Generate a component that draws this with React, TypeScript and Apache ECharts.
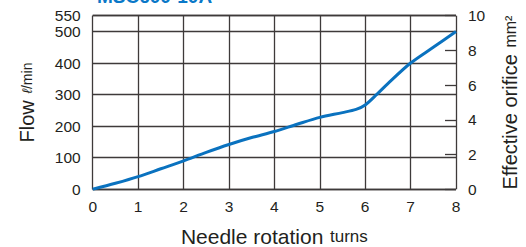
import React, { useEffect, useRef } from "react";
import * as echarts from "echarts";

const turns = [0, 0.5, 1, 1.5, 2, 2.5, 3, 3.5, 4, 4.5, 5, 5.5, 5.8, 6, 6.25, 6.5, 7, 7.5, 8];
const flow = [0, 19, 40, 65, 90, 117, 142, 164, 183, 206, 228, 243, 253, 267, 300, 335, 400, 450, 500];
const flowMax = 550;
const titleText = "MSC600-10A";

export default function App() {
  const ref = useRef<HTMLDivElement>(null);
  useEffect(() => {
    const chart = echarts.init(ref.current!, undefined, { renderer: "svg" });
    const gridColor = "#3e3a3a";
    const font = "Liberation Sans, Arial, sans-serif";
    const ink = "#231f20";
    const tickLabel = { fontSize: 15.5, lineHeight: 13, color: ink, fontFamily: font };
    chart.setOption({
      animation: false,
      textStyle: { fontFamily: font },
      grid: {
        left: 92.7,
        right: 70,
        top: 15.7,
        bottom: 57.7,
        containLabel: false,
        outerBoundsMode: "none",
      },
      graphic: [
        {
          type: "text",
          x: 97,
          y: -3.5,
          style: {
            text: titleText,
            font: "bold 19px Liberation Sans, Arial, sans-serif",
            fill: "#0a78c8",
            verticalAlign: "middle",
            align: "left",
          },
        },
      ],
      xAxis: {
        type: "value",
        min: 0,
        max: 8,
        interval: 1,
        name: "{a|Needle rotation}  {b|turns}",
        nameLocation: "middle",
        nameGap: 37,
        nameTextStyle: {
          rich: {
            a: { fontSize: 21, color: ink, fontFamily: font },
            b: { fontSize: 17, color: ink, fontFamily: font },
          },
        },
        axisLine: { show: false },
        axisTick: { show: false },
        axisLabel: { ...tickLabel, margin: 11 },
        splitLine: { show: true, lineStyle: { color: gridColor, width: 1.3 } },
      },
      yAxis: [
        {
          type: "value",
          min: 0,
          max: flowMax,
          interval: 100,
          name: "{a|Flow}  {c|ℓ}{b|/min}",
          nameLocation: "middle",
          nameRotate: 90,
          nameGap: 56,
          nameTextStyle: {
            rich: {
              a: { fontSize: 20, color: ink, fontFamily: font },
              b: { fontSize: 14, color: ink, fontFamily: font },
              c: { fontSize: 14, color: ink, fontFamily: font, fontStyle: "italic" },
            },
          },
          axisLine: { show: false },
          axisTick: { show: false },
          axisLabel: { ...tickLabel, margin: 12, showMaxLabel: false },
          splitLine: { show: true, lineStyle: { color: gridColor, width: 1.3 } },
        },
        {
          type: "value",
          position: "right",
          min: 0,
          max: 10,
          interval: 2,
          name: "{a|Effective orifice}  {b|mm²}",
          nameLocation: "middle",
          nameRotate: 90,
          nameGap: 44,
          nameTextStyle: {
            rich: {
              a: { fontSize: 20, color: ink, fontFamily: font },
              b: { fontSize: 16, color: ink, fontFamily: font },
            },
          },
          axisLine: { show: false },
          axisTick: { show: true, inside: true, length: 11, lineStyle: { color: gridColor, width: 1.3 } },
          axisLabel: { ...tickLabel, margin: 12 },
          splitLine: { show: false },
        },
        {
          type: "value",
          position: "left",
          offset: 0,
          min: 0,
          max: flowMax,
          interval: flowMax,
          axisLine: { show: false },
          axisTick: { show: false },
          splitLine: { show: true, lineStyle: { color: gridColor, width: 1.3 } },
          axisLabel: { ...tickLabel, margin: 12, showMinLabel: false, showMaxLabel: true },
        },
      ],
      series: [
        {
          type: "line",
          data: turns.map((t, i) => [t, flow[i]]),
          smooth: 0.3,
          showSymbol: false,
          lineStyle: { color: "#0a72bf", width: 3 },
          yAxisIndex: 0,
        },
      ],
    });
    return () => chart.dispose();
  }, []);
  return (
    <div
      ref={ref}
      style={{ position: "fixed", left: 0, top: 0, width: 526, height: 247, background: "#fff" }}
    />
  );
}
